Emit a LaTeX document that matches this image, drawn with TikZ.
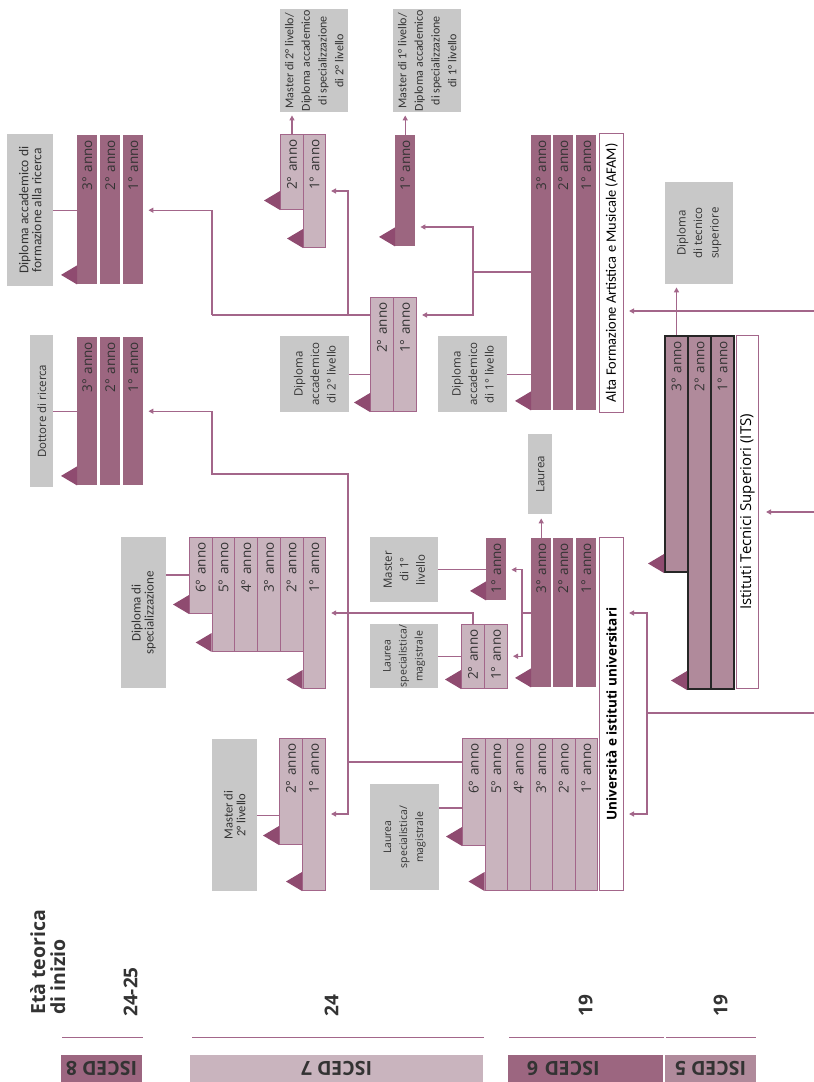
\documentclass[tikz,border=0pt]{standalone}
\usepackage{fontspec}
\setmainfont{Carlito}
\newfontfamily\osans{Open Sans}
\usetikzlibrary{arrows.meta}

\definecolor{mauve}{HTML}{9C6680}
\definecolor{mauvelt}{HTML}{C9B4BE}
\definecolor{mauvemd}{HTML}{B08A9B}
\definecolor{mauvedk}{HTML}{8F4B70}
\definecolor{linec}{HTML}{A3668A}
\definecolor{boxgray}{HTML}{C8C8C8}
\definecolor{txt}{HTML}{333333}

\newcommand{\osz}[2]{\osans\fontsize{#1}{#2}\selectfont}
\newcommand{\csz}[2]{\fontsize{#1}{#2}\selectfont}
% triangolo di uscita, all'angolo in basso a sinistra di una barra
\newcommand{\tri}[1]{\fill[mauvedk] (#1) -- ++(0,-19) -- ++(-16,9.5) -- cycle;}

\begin{document}
\begin{tikzpicture}[x=1pt, y=-1pt]
    % ================= stili =================
    \tikzset{
        % barre degli anni: lunghezza, spessore
        yr/.style 2 args={rotate=90, anchor=north east, minimum width=#1pt, minimum height=#2pt,
            text width=#1pt-10pt, inner xsep=5pt, inner ysep=0pt, align=right, text=txt,
            font=\osz{13.5}{15}},
        dark/.style={fill=mauve},
        light/.style={fill=mauvelt, draw=linec, line width=1pt},
        its/.style={fill=mauvemd, draw=black!85, line width=2pt},
        % riquadri grigi dei titoli
        gbox/.style 2 args={rotate=90, anchor=north east, fill=boxgray, minimum width=#1pt,
            minimum height=#2pt, inner sep=0pt, align=center, text=txt, font=\osz{11.5}{16.5}},
        % riquadri bianchi dei percorsi
        sect/.style 2 args={rotate=90, anchor=north east, fill=white, draw=linec, line width=1pt,
            minimum width=#1pt, minimum height=#2pt, inner sep=0pt, text=black},
        link/.style={draw=linec, line width=1.3pt},
        arr/.style={link, -{Triangle[length=5pt, width=5pt]}},
        age/.style={rotate=90, anchor=west, inner sep=0pt, text=txt, font=\osans\bfseries\fontsize{19}{20}\selectfont},
        band/.style 2 args={rotate=180, minimum width=#1pt, minimum height=27pt, inner sep=0pt,
            fill=#2, text=txt, font=\osans\bfseries\fontsize{19.5}{20}\selectfont}
    }

    \useasboundingbox (0,0) rectangle (814,1082);

    % ================= 1. ISCED 8 =================
    \node[gbox={152}{46}, font=\csz{13.5}{13}] (gfr) at (7,134) {Diploma accademico di\\formazione alla ricerca};
    \foreach \n/\x in {3/77,2/100,1/123} \node[yr={149}{20}, dark] (fr\n) at (\x,135) {\n° anno};

    \node[gbox={152}{23}] (gdr) at (30,335) {Dottore di ricerca};
    \foreach \n/\x in {3/77,2/100,1/123} \node[yr={148}{20}, dark] (dr\n) at (\x,337) {\n° anno};

    % ================= 2. ISCED 7 (AFAM) =================
    \node[gbox={103}{68}, font=\csz{12}{16.7}] (gm2a) at (280,9) {Master di 2° livello/\\Diploma accademico\\di specializzazione\\di 2° livello};
    \node[yr={75}{23}, light] (m2a2) at (280,134) {2° anno};
    \node[yr={113}{22}, light] (m2a1) at (303,134) {1° anno};

    \node[gbox={103}{68}, font=\csz{12}{16.7}] (gm1a) at (393,9) {Master di 1° livello/\\Diploma accademico\\di specializzazione\\di 1° livello};
    \node[yr={111}{20}, dark] (m1a) at (395,135) {1° anno};

    \node[gbox={76}{69}] (ga2l) at (280,336) {Diploma\\accademico\\di 2° livello};
    \node[yr={114}{23}, light] (a2l2) at (370,297) {2° anno};
    \node[yr={114}{23}, light] (a2l1) at (393,297) {1° anno};

    % ================= 3. ISCED 6 (AFAM) =================
    \node[gbox={76}{69}] (ga1l) at (438,336) {Diploma\\accademico\\di 1° livello};
    \foreach \n/\x in {3/531,2/553,1/576} \node[yr={275}{20}, dark] (af\n) at (\x,135) {\n° anno};
    \node[sect={279}{24}, font=\csz{14.4}{15}] (laf) at (599,133) {Alta Formazione Artistica e Musicale (AFAM)};

    % ================= 4. ISCED 5 (ITS) =================
    \node[gbox={102}{68}] (gdts) at (665,182) {Diploma\\di tecnico\\superiore};
    \node[yr={236}{23}, its] (its3) at (664,335) {3° anno};
    \node[yr={353}{23}, its] (its2) at (687,335) {2° anno};
    \node[yr={353}{23}, its] (its1) at (710,335) {1° anno};
    \node[sect={353}{22}, font=\osz{15}{16}] (lits) at (736,335) {Istituti Tecnici Superiori (ITS)};

    % ================= 5. Università =================
    \node[gbox={80}{24}] (gla) at (528,434) {Laurea};
    \foreach \n/\x in {3/531,2/553,1/576} \node[yr={149}{20}, dark] (u\n) at (\x,538) {\n° anno};
    \node[sect={353}{24}, font=\osans\bfseries\fontsize{13.5}{15}\selectfont] (lu) at (599,537) {Università e istituti universitari};

    \node[gbox={65}{68}] (gm1u) at (370,537) {Master\\di 1°\\livello};
    \node[yr={62}{20}, dark] (m1u) at (486,538) {1° anno};

    \node[gbox={64}{68}, font=\osz{10.5}{16}] (gls) at (370,624) {Laurea\\specialistica/\\magistrale};
    \node[yr={64}{23}, light] (ls2) at (461,624) {2° anno};
    \node[yr={64}{23}, light] (ls1) at (484,624) {1° anno};

    \node[gbox={151}{45}, font=\csz{13}{13}] (gds) at (121,537) {Diploma di\\specializzazione};
    \node[yr={76}{22.7}, light] (ds6) at (189,537) {6° anno};
    \foreach \n/\x in {5/211.7,4/234.4,3/257.1,2/279.8} \node[yr={114}{22.7}, light] (ds\n) at (\x,537) {\n° anno};
    \node[yr={151}{22.7}, light] (ds1) at (302.5,537) {1° anno};

    \node[gbox={152}{45}, font=\csz{12.5}{13}] (gm2u) at (212,739) {Master di\\2° livello};
    \node[yr={106}{23}, light] (m2u2) at (279,738) {2° anno};
    \node[yr={152}{23}, light] (m2u1) at (302,738) {1° anno};

    \node[gbox={106}{69}, font=\osz{10.5}{16}] (glm) at (370,784) {Laurea\\specialistica/\\magistrale};
    \node[yr={107}{22.5}, light] (lm6) at (462,738) {6° anno};
    \foreach \n/\x in {5/484.5,4/507,3/529.5,2/552,1/574.5} \node[yr={152}{22.5}, light] (lm\n) at (\x,738) {\n° anno};

    % ================= 6. collegamenti =================
    % titoli
    \draw[link] (gfr.south) -- (gfr.south -| fr3.north);
    \draw[link] (gdr.south) -- (gdr.south -| dr3.north);
    \draw[link] (ga2l.south) -- (ga2l.south -| a2l2.north);
    \draw[link] (ga1l.south) -- (ga1l.south -| af3.north);
    \draw[link] (gm1u.south) -- (gm1u.south -| m1u.north);
    \draw[link] (gls.south) -- (gls.south -| ls2.north);
    \draw[link] (gm2u.south) -- (gm2u.south -| m2u2.north);
    \draw[link] (gds.south |- 0,575) -- (ds6.north |- 0,575);
    \draw[link] (glm.south |- 0,808) -- (lm6.north |- 0,808);

    % uscite verso l'alto
    \draw[arr, shorten >=3pt] (m2a2.east) -- (m2a2.east |- gm2a.west);
    \draw[arr, shorten >=3pt] (m1a.east) -- (m1a.east |- gm1a.west);
    \draw[arr, shorten >=3pt] (its3.east) -- (its3.east |- gdts.west);
    \draw[arr, shorten >=4pt] (u3.east) -- (u3.east |- gla.west);

    % AFAM
    \coordinate (jaf) at (473,272);
    \draw[link] (af3.north |- jaf) -- (jaf);
    \draw[arr, shorten >=5pt] (jaf) |- (m1a.south |- 0,227);
    \draw[arr, shorten >=5pt] (jaf) |- (a2l1.south |- 0,315);

    \coordinate (jfr) at (212,315);
    \coordinate (jm2a) at (348,315);
    \draw[link] (a2l2.north |- jfr) -- (jfr);
    \draw[arr, shorten >=5pt] (jfr) |- (fr1.south |- gfr.south);
    \draw[arr, shorten >=5pt] (jm2a) |- (m2a1.south |- 0,191);

    % università
    \coordinate (ju) at (522,613);
    \draw[link] (u3.north |- ju) -- (ju);
    \draw[arr, shorten >=5pt] (ju) |- (m1u.south |- gm1u.south);
    \draw[arr, shorten >=5pt] (ju) |- (ls1.south |- gls.south);
    \draw[arr, shorten >=5pt] (ls2.east) |- (ds1.south |- ju);

    \coordinate (jlm) at (348,762);
    \coordinate (jdr) at (212,474);
    \draw[link] (lm6.north |- jlm) -- (jlm);
    \draw[arr, shorten >=5pt] (jlm) |- (jdr) |- (dr1.south |- gdr.south);
    \draw[arr, shorten >=5pt] (jlm) |- (m2u1.south |- 0,814);

    % ingressi dal bordo destro
    \coordinate (eaf) at (814,311);
    \coordinate (eits) at (814,512);
    \coordinate (eu) at (814,713);
    \coordinate (ju2) at (647,713);
    \draw[arr, shorten >=5pt] (eaf) -- (laf.south |- eaf);
    \draw[arr, shorten >=7pt] (eits) -- (lits.south |- eits);
    \draw[link] (eu) -- (ju2);
    \draw[arr, shorten >=5pt] (ju2) |- (lu.south |- 0,613);
    \draw[arr, shorten >=5pt] (ju2) |- (lu.south |- 0,814);

    % triangoli di uscita
    \foreach \b in {fr3,dr3,m2a2,m2a1,m1a,a2l2,af3,its3,its2,u3,m1u,ls2,ds6,ds5,ds1,m2u2,m2u1,lm6,lm5}
        \tri{\b.north west};

    % ================= 7. età e livelli ISCED =================
    \node[rotate=90, anchor=north west, inner sep=0pt, align=left, text=txt,
        font=\osans\bfseries\fontsize{19.5}{20}\selectfont] (eta) at (30,1015) {Età teorica\\di inizio};
    \node[age] (a8) at (130.5,1017) {24-25};
    \node[age] (a7) at (331.5,1017) {24};
    \node[age] (a6) at (585.5,1017) {19};
    \node[age] (a5) at (720.5,1017) {19};

    \draw[link, line width=1pt] (62,1037) -- (143,1037);
    \draw[link, line width=1pt] (192,1037) -- (484,1037);
    \draw[link, line width=1pt] (509,1037) -- (664,1037);
    \draw[link, line width=1pt] (666,1037) -- (756,1037);

    \node[band={81}{mauve}] (i8) at (101.5,1068.5) {ISCED 8};
    \node[band={293}{mauvelt}] (i7) at (336.5,1068.5) {ISCED 7};
    \node[band={155}{mauve}, text width=117pt, inner xsep=19pt, align=right] (i6) at (585.5,1068.5) {ISCED 6};
    \node[band={91}{mauvemd}] (i5) at (710.5,1068.5) {ISCED 5};

\end{tikzpicture}
\end{document}
